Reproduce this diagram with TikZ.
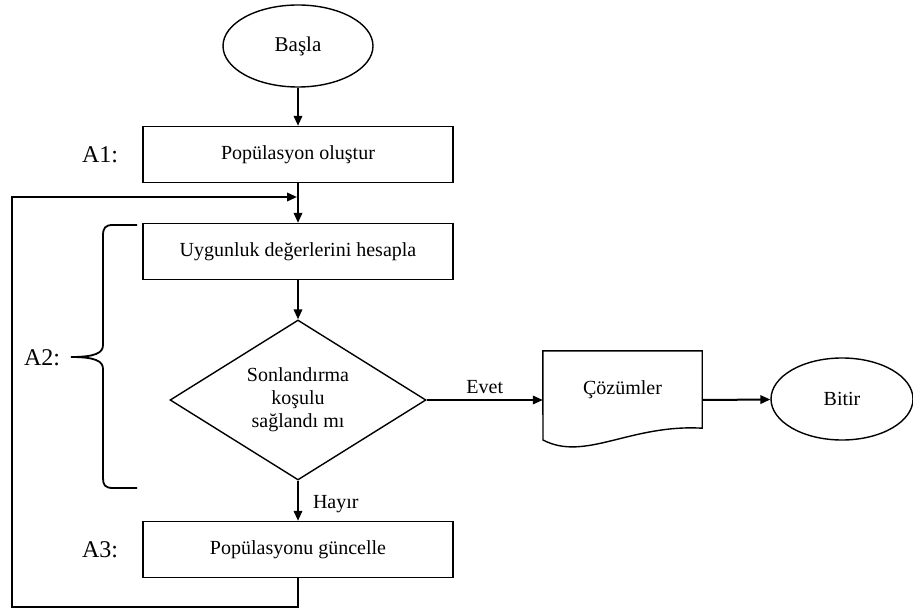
\documentclass[tikz,border=0pt]{standalone}
\usepackage{fontspec}
\setmainfont{Liberation Serif}
\usetikzlibrary{shapes.geometric,arrows.meta}
\tikzset{
  shp/.style={draw=black,line width=1.4pt,font=\fontsize{20}{23}\selectfont,inner sep=0pt},
  procbox/.style={shp,rectangle,minimum width=310pt,minimum height=56pt},
  term/.style={shp,ellipse},
  decis/.style={shp,diamond,aspect=1.6,minimum width=256pt,minimum height=160pt,align=center},
  conn/.style={line width=2pt,-{Triangle[length=10pt,width=8.5pt]}},
  lbl/.style={font=\fontsize{24}{28}\selectfont,inner sep=0pt},
  small/.style={font=\fontsize{20}{23}\selectfont,inner sep=0pt}
}
\begin{document}
\begin{tikzpicture}[x=1pt,y=-1pt]
\useasboundingbox (0,0) rectangle (913,612);
% nodes
\node[term,minimum width=150pt,minimum height=82pt,font=\fontsize{21}{24}\selectfont] (basla) at (298,46) {Başla};
\node[procbox] (box1) at (298,154.5) {Popülasyon oluştur};
\node[procbox] (box2) at (298,251.5) {Uygunluk değerlerini hesapla};
\node[decis] (dia) at (298,400) {Sonlandırma\\koşulu\\sağlandı mı};
\node[procbox] (box3) at (298,549.5) {Popülasyonu güncelle};
\node[small,minimum width=159pt,minimum height=77pt] (doc) at (622.5,389.5) {Çözümler};
\draw[line width=1.4pt] (doc.north west) -- (doc.north east) -- (doc.south east)
  .. controls (630,424) and (585,462) .. (543,440) -- cycle;
\node[term,minimum width=142pt,minimum height=82pt] (bitir) at (842,399) {Bitir};
% labels
\node[lbl] (a1) at (100,155) {A1:};
\node[lbl] (a2) at (42,358) {A2:};
\node[lbl] (a3) at (100,550) {A3:};
% connectors
\draw[conn] (basla) -- (box1);
\draw[conn] (box1) -- (box2);
\draw[conn] (box2) -- (dia);
\draw[conn] (dia) -- node[small,anchor=west,xshift=14pt,yshift=-3pt] (hayir) {Hayır} (box3);
\draw[conn] (dia.east) -- node[small,above,yshift=5pt] (evet) {Evet} (dia.east -| doc.west);
\draw[conn] (dia.east -| doc.east) -- (bitir);
% feedback loop
\coordinate (lb) at (12,607);
\coordinate (lt) at (12,197);
\coordinate (join) at (297,197);
\draw[conn,line join=miter] (box3.south) -- (box3.south |- lb) -- (lb) -- (lt) -- (join);
% brace
\draw[line width=1.8pt] (137,225) -- (113,225) .. controls (105,225) and (103,228) .. (103,236)
  -- (103,345) .. controls (103,353) and (95,357) .. (71,357)
  .. controls (95,357) and (103,361) .. (103,369)
  -- (103,478) .. controls (103,485) and (105,488) .. (113,488) -- (137,488);
\end{tikzpicture}
\end{document}
